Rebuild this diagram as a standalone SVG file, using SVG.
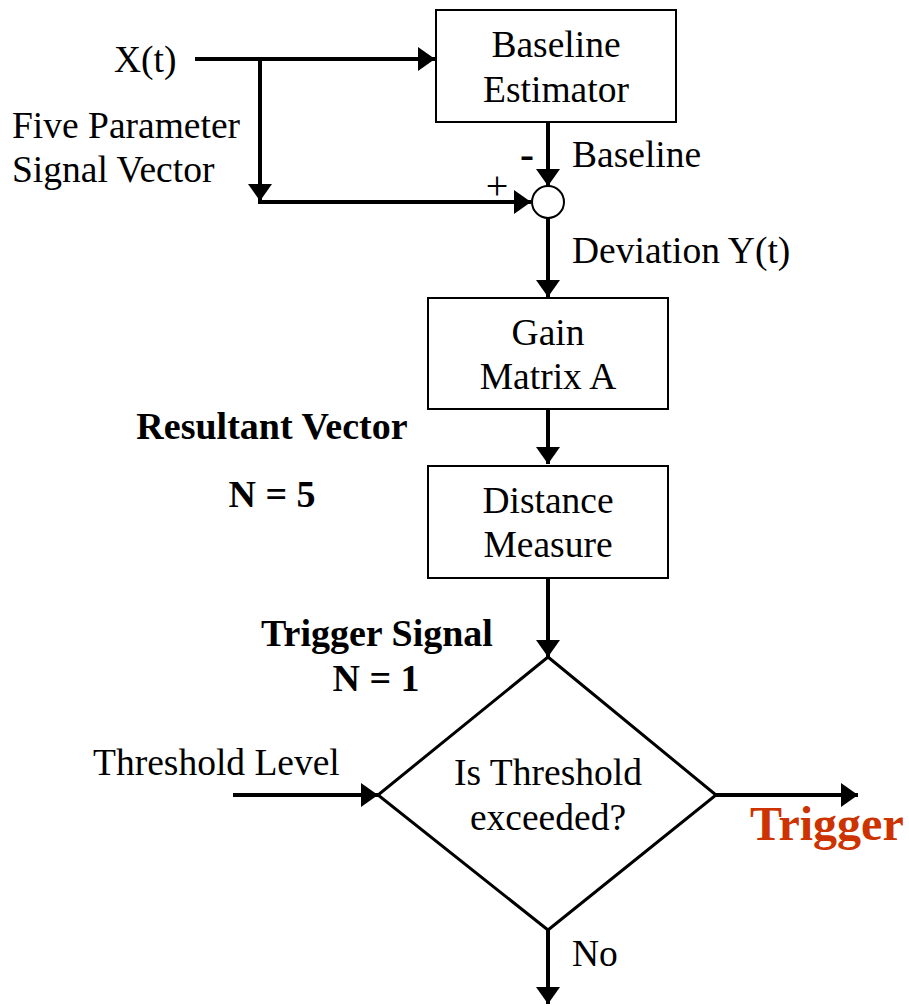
<svg xmlns="http://www.w3.org/2000/svg" width="909" height="1006" viewBox="0 0 909 1006">
<style>
text{font-family:"Liberation Serif","Times New Roman",serif;font-size:37.5px;fill:#000}
.c{text-anchor:middle}
.b{font-weight:bold;font-size:38px}
.box{fill:#fff;stroke:#000;stroke-width:2}
.wire{fill:none;stroke:#000;stroke-width:4}
</style>
<defs>
<marker id="ah" viewBox="0 0 17 24" markerWidth="17" markerHeight="24" refX="17" refY="12" orient="auto" markerUnits="userSpaceOnUse">
<path d="M0,0 L17,12 L0,24 z" fill="#000"/>
</marker>
</defs>
<rect width="909" height="1006" fill="#fff"/>
<g id="connectors">
<path class="wire" d="M195,59 H435" marker-end="url(#ah)"/>
<path class="wire" d="M260,59 V201" marker-end="url(#ah)"/>
<path class="wire" d="M258,202 H531" marker-end="url(#ah)"/>
<path class="wire" d="M548,122 V186" marker-end="url(#ah)"/>
<path class="wire" d="M548,218 V297" marker-end="url(#ah)"/>
<path class="wire" d="M548,409 V464" marker-end="url(#ah)"/>
<path class="wire" d="M548,578 V657" marker-end="url(#ah)"/>
<path class="wire" d="M233,795 H378" marker-end="url(#ah)"/>
<path class="wire" d="M716,795 H858" marker-end="url(#ah)"/>
<path class="wire" d="M548,930 V1004" marker-end="url(#ah)"/>
</g>
<g id="input">
<text x="114" y="72">X(t)</text>
<text x="12" y="138">Five Parameter</text>
<text x="12" y="182">Signal Vector</text>
</g>
<g id="baseline-estimator">
<rect class="box" x="436" y="10" width="240" height="112"/>
<text class="c" x="556" y="57">Baseline</text>
<text class="c" x="556" y="102">Estimator</text>
</g>
<g id="sum">
<circle cx="548" cy="202" r="16" fill="#fff" stroke="#000" stroke-width="2"/>
<text class="c b" x="527" y="168" style="font-size:42px">-</text>
<text class="c" x="497" y="199" style="font-size:40px">+</text>
<text x="572" y="167">Baseline</text>
<text x="572" y="263">Deviation Y(t)</text>
</g>
<g id="gain-matrix">
<rect class="box" x="428" y="298" width="240" height="111"/>
<text class="c" x="548" y="345">Gain</text>
<text class="c" x="548" y="389">Matrix A</text>
</g>
<g id="resultant">
<text class="c b" x="272" y="439">Resultant Vector</text>
<text class="c b" x="272" y="507">N = 5</text>
</g>
<g id="distance-measure">
<rect class="box" x="428" y="466" width="240" height="112"/>
<text class="c" x="548" y="513">Distance</text>
<text class="c" x="548" y="557">Measure</text>
</g>
<g id="trigger-signal">
<text class="c b" x="377" y="646">Trigger Signal</text>
<text class="c b" x="376" y="691">N = 1</text>
</g>
<g id="threshold-level">
<text x="93" y="775">Threshold Level</text>
</g>
<g id="decision">
<polygon points="548,657 716,795 548,930 378,795" fill="#fff" stroke="#000" stroke-width="3"/>
<text class="c" x="548" y="785">Is Threshold</text>
<text class="c" x="548" y="830">exceeded?</text>
</g>
<g id="trigger">
<text class="b" x="750" y="840" style="font-size:48px;fill:#CC3300">Trigger</text>
</g>
<g id="no">
<text x="572" y="966">No</text>
</g>
</svg>
